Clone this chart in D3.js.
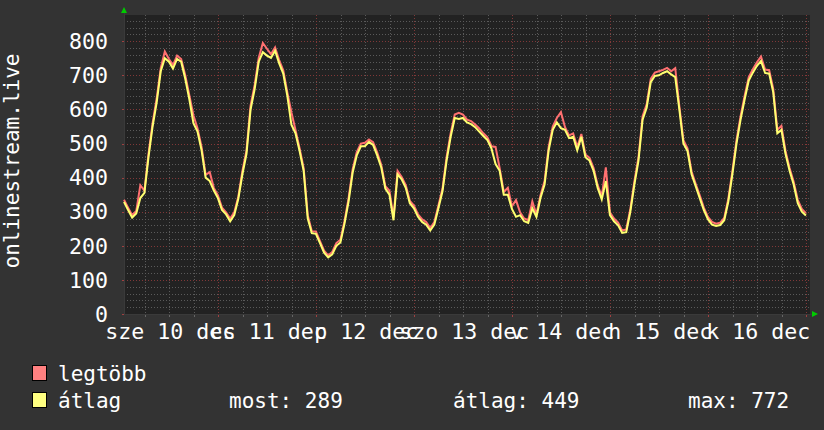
<!DOCTYPE html>
<html><head><meta charset="utf-8">
<script src="https://cdn.jsdelivr.net/npm/d3@7"></script>
<style>html,body{margin:0;padding:0;background:#333;}svg{display:block;}</style>
</head><body><div id="chart"></div>
<script>
// ---- data ----
const startTime = Date.UTC(2025, 11, 10, 0, 55); // first sample
const endTime = Date.UTC(2025, 11, 17, 0, 55);
const stepMs = 3600e3; // hourly samples
const avgValues = [
329,305,283,295,340,355,460,550,620,712,750,740,720,748,740,690,630,560,535,480,400,390,362,340,
305,292,272,290,338,410,470,600,660,740,768,758,751,772,735,705,640,555,530,478,420,280,237,235,
208,180,166,175,200,210,265,330,415,465,492,492,505,496,465,430,368,350,275,410,395,370,325,310,
285,270,262,245,262,310,360,450,520,575,572,575,562,557,548,535,522,510,485,440,420,350,350,308,
285,290,272,267,310,285,340,380,480,540,562,545,540,516,520,480,520,460,450,420,370,336,390,290,
272,260,238,240,300,380,450,570,605,680,698,700,707,712,703,695,600,500,478,410,375,340,305,278,
262,258,261,275,330,410,500,570,630,685,708,728,742,707,705,650,530,540,470,420,380,325,300,289];
const maxValues = [
335,312,290,302,378,362,470,560,632,722,770,748,730,758,748,700,642,583,545,490,408,416,370,348,
312,298,280,298,345,420,480,612,672,752,795,778,762,782,745,715,650,592,540,486,428,290,243,242,
214,186,172,182,208,218,272,340,425,475,500,502,512,504,474,438,375,362,284,420,402,378,332,318,
292,278,270,252,270,318,368,460,530,585,590,585,570,566,556,544,530,518,492,490,428,358,370,316,
334,298,280,275,330,292,348,390,490,550,575,592,548,524,530,490,528,468,458,428,378,345,430,298,
280,268,245,248,308,390,460,580,615,690,708,712,716,722,712,721,610,510,486,418,382,348,312,285,
270,265,268,282,338,420,510,580,640,695,718,738,755,717,715,660,540,552,478,428,388,335,308,296];
const dayLabels = ["sze 10 dec","cs 11 dec","p 12 dec","szo 13 dec","v 14 dec","h 15 dec","k 16 dec"];
const dayNoons = [10,11,12,13,14,15,16].map(d => Date.UTC(2025, 11, d, 12, 0));
const yTicks = [0,100,200,300,400,500,600,700,800];
const yAxisTitle = "onlinestream.live";
const legendNames = ["legtöbb","átlag"];
const statLabels = ["most: 289","átlag: 449","max: 772"];

// ---- layout ----
const W = 824, H = 430;
const L = 124, R = 810, T = 15, B = 314;
const svg = d3.select("#chart").append("svg").attr("width", W).attr("height", H);
svg.append("rect").attr("width", W).attr("height", H).attr("fill", "#333333");
svg.append("rect").attr("x", L).attr("y", T).attr("width", R - L).attr("height", B - T).attr("fill", "#222222");

const x = d3.scaleUtc().domain([startTime, endTime]).range([L, R]);
const y = d3.scaleLinear().domain([0, 877]).range([B, T]);

const font = "'DejaVu Sans Mono', monospace";
const fs = 21.6;
const grid = svg.append("g");
// horizontal minor grid
d3.range(20, 877, 20).filter(v => v % 100 !== 0).forEach(v => {
  grid.append("line").attr("x1", L).attr("x2", R).attr("y1", Math.round(y(v)) + 0.5).attr("y2", Math.round(y(v)) + 0.5)
    .attr("stroke", "#5a5a5a").attr("stroke-dasharray", "1,2");
});
yTicks.filter(v => v > 0).forEach(v => {
  grid.append("line").attr("x1", L).attr("x2", R).attr("y1", Math.round(y(v)) + 0.5).attr("y2", Math.round(y(v)) + 0.5)
    .attr("stroke", "#803838").attr("stroke-dasharray", "1,2");
});
// vertical grid: every 6 hours, midnight major
const sixH = d3.utcHour.every(6).range(new Date(startTime), new Date(endTime));
sixH.forEach(t => {
  const major = t.getUTCHours() === 0;
  const xp = Math.round(x(t)) + 0.5;
  grid.append("line").attr("x1", xp).attr("x2", xp).attr("y1", T).attr("y2", B)
    .attr("stroke", major ? "#803838" : "#5a5a5a").attr("stroke-dasharray", "1,2");
  grid.append("line").attr("x1", xp).attr("x2", xp).attr("y1", B).attr("y2", B + 3)
    .attr("stroke", major ? "#a04040" : "#666");
});
yTicks.forEach(v => {
  grid.append("line").attr("x1", L - 2).attr("x2", L).attr("y1", Math.round(y(v)) + 0.5).attr("y2", Math.round(y(v)) + 0.5)
    .attr("stroke", "#a04040");
});

// axes lines
svg.append("line").attr("x1", L + 0.5).attr("x2", L + 0.5).attr("y1", B).attr("y2", 12).attr("stroke", "#3a3a3a");
svg.append("line").attr("x1", L).attr("x2", 812).attr("y1", B + 0.5).attr("y2", B + 0.5).attr("stroke", "#3a3a3a");
svg.append("path").attr("d", "M121,13L127,13L124,7Z").attr("fill", "#00cc00");
svg.append("path").attr("d", "M812,311L812,317L818,314Z").attr("fill", "#00cc00");

// lines
const times = avgValues.map((_, i) => startTime + i * stepMs);
const line = d3.line().x((d, i) => x(times[i])).y(d => y(d)).curve(d3.curveLinear);
svg.append("path").datum(maxValues).attr("d", line).attr("fill", "none")
  .attr("stroke", "#ff7070").attr("stroke-width", 2).attr("stroke-linejoin", "miter");
svg.append("path").datum(avgValues).attr("d", line).attr("fill", "none")
  .attr("stroke", "#ffff70").attr("stroke-width", 2).attr("stroke-linejoin", "miter");

// y labels
svg.append("g").selectAll("text").data(yTicks).join("text")
  .attr("x", 108).attr("y", d => y(d)).attr("dy", "0.36em").attr("text-anchor", "end")
  .attr("fill", "#fff").attr("font-family", font).attr("font-size", fs).text(d => d);
// x labels
svg.append("g").selectAll("text").data(dayLabels).join("text")
  .attr("x", (d, i) => x(dayNoons[i]) + 1).attr("y", 339).attr("text-anchor", "middle")
  .attr("fill", "#fff").attr("font-family", font).attr("font-size", fs).text(d => d);
// y title
svg.append("text").attr("transform", "translate(19,161) rotate(-90)").attr("text-anchor", "middle")
  .attr("fill", "#fff").attr("font-family", font).attr("font-size", 21).text(yAxisTitle);

// legend
const legColors = ["#ff8080", "#ffff80"];
const legY = [381, 408];
legendNames.forEach((n, i) => {
  svg.append("rect").attr("x", 32.5).attr("y", legY[i] - 15.5).attr("width", 14).attr("height", 15)
    .attr("fill", legColors[i]).attr("stroke", "#000").attr("stroke-width", 1);
  svg.append("text").attr("x", 58).attr("y", legY[i])
    .attr("fill", "#fff").attr("font-family", font).attr("font-size", 21).text(n);
});
const statX = [229, 453, 688];
statLabels.forEach((s, i) => {
  svg.append("text").attr("x", statX[i]).attr("y", legY[1])
    .attr("fill", "#fff").attr("font-family", font).attr("font-size", 21).text(s);
});
</script></body></html>
